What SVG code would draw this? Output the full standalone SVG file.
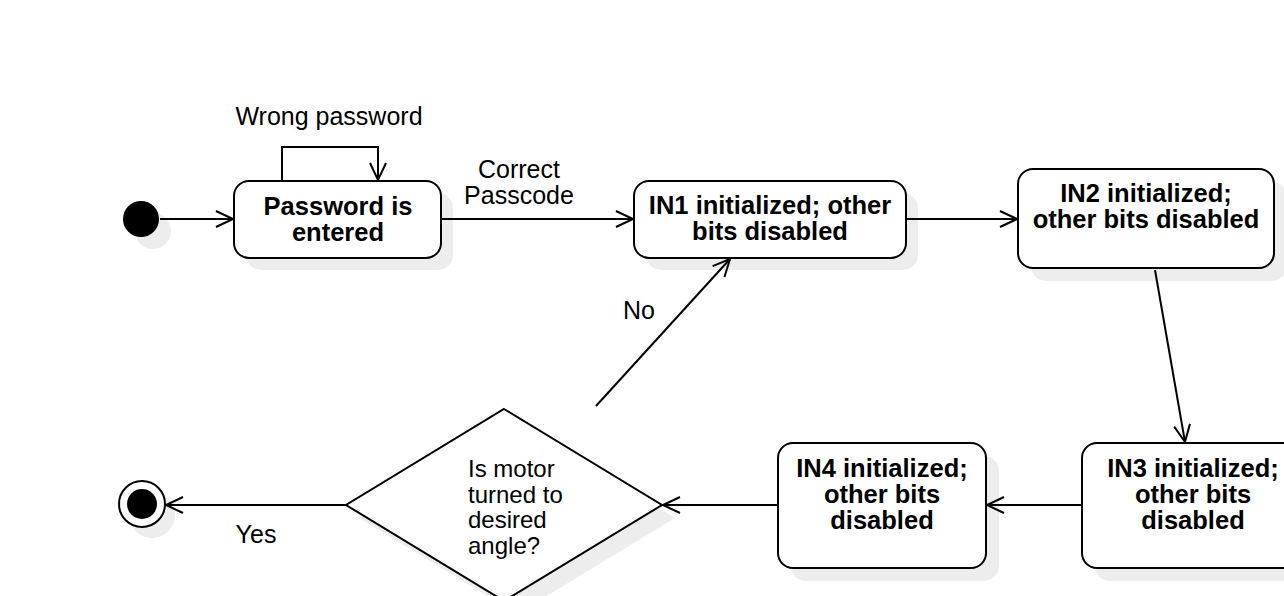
<svg xmlns="http://www.w3.org/2000/svg" width="1284" height="596" viewBox="0 0 1284 596">
<defs>
<marker id="arr" markerUnits="userSpaceOnUse" markerWidth="24" markerHeight="24" refX="18" refY="9" orient="auto" overflow="visible">
<path d="M1,1 L18,9 L1,17" fill="none" stroke="#000" stroke-width="2"/>
</marker>
</defs>
<style>
.box{fill:#fff;stroke:#000;stroke-width:2}
.sh{fill:#ededed;stroke:none}
.line{fill:none;stroke:#000;stroke-width:2;marker-end:url(#arr)}
.bt{font-family:"Liberation Sans",Arial,sans-serif;font-weight:bold;font-size:25.5px;text-anchor:middle;fill:#000}
.nt{font-family:"Liberation Sans",Arial,sans-serif;font-size:25px;fill:#000}
.dt{font-family:"Liberation Sans",Arial,sans-serif;font-size:24px;fill:#000}
.c{text-anchor:middle}
</style>
<rect width="1284" height="596" fill="#fff"/>
<g id="start">
<circle class="sh" cx="153" cy="231" r="18"/>
<circle cx="141" cy="219" r="18" fill="#000"/>
</g>
<g id="password">
<rect class="sh" x="246" y="193" width="207" height="77" rx="15"/>
<rect class="box" x="234" y="181" width="207" height="77" rx="15"/>
<text class="bt" x="338" y="215">Password is</text>
<text class="bt" x="338" y="241">entered</text>
</g>
<g id="in1">
<rect class="sh" x="646" y="193" width="272" height="77" rx="15"/>
<rect class="box" x="634" y="181" width="272" height="77" rx="15"/>
<text class="bt" x="770" y="214">IN1 initialized; other</text>
<text class="bt" x="770" y="240">bits disabled</text>
</g>
<g id="in2">
<rect class="sh" x="1031" y="182" width="256" height="99" rx="15"/>
<rect class="box" x="1018" y="169" width="256" height="99" rx="15"/>
<text class="bt" x="1146" y="202">IN2 initialized;</text>
<text class="bt" x="1146" y="228">other bits disabled</text>
</g>
<g id="in3">
<rect class="sh" x="1095" y="456" width="222" height="125" rx="15"/>
<rect class="box" x="1082" y="443" width="222" height="125" rx="15"/>
<text class="bt" x="1193" y="477">IN3 initialized;</text>
<text class="bt" x="1193" y="503">other bits</text>
<text class="bt" x="1193" y="529">disabled</text>
</g>
<g id="in4">
<rect class="sh" x="791" y="456" width="208" height="125" rx="15"/>
<rect class="box" x="778" y="443" width="208" height="125" rx="15"/>
<text class="bt" x="882" y="477">IN4 initialized;</text>
<text class="bt" x="882" y="503">other bits</text>
<text class="bt" x="882" y="529">disabled</text>
</g>
<g id="decision">
<polygon class="sh" points="517,422 675,518 517,614 359,518"/>
<polygon class="box" points="504,409 662,505 504,601 346,505"/>
<text class="dt" x="468" y="477">Is motor</text>
<text class="dt" x="468" y="503">turned to</text>
<text class="dt" x="468" y="528">desired</text>
<text class="dt" x="468" y="554">angle?</text>
</g>
<g id="end">
<circle class="sh" cx="152" cy="515" r="23"/>
<circle cx="142" cy="504" r="23" fill="#fff" stroke="#000" stroke-width="2"/>
<circle cx="142" cy="504" r="15" fill="#000"/>
</g>
<g id="connectors">
<line class="line" x1="160" y1="219" x2="233" y2="219"/>
<polyline class="line" points="282,181 282,147 378,147 378,180"/>
<line class="line" x1="441" y1="219" x2="633" y2="219"/>
<line class="line" x1="906" y1="219" x2="1017" y2="219"/>
<line class="line" x1="1155" y1="270" x2="1185" y2="442"/>
<line class="line" x1="1082" y1="505" x2="987" y2="505"/>
<line class="line" x1="778" y1="505" x2="663" y2="505"/>
<line class="line" x1="596" y1="406" x2="730" y2="259"/>
<line class="line" x1="346" y1="505" x2="166" y2="505"/>
</g>
<g id="labels">
<text class="nt c" x="329" y="125">Wrong password</text>
<text class="nt c" x="519" y="178">Correct</text>
<text class="nt c" x="519" y="204">Passcode</text>
<text class="nt c" x="639" y="319">No</text>
<text class="nt c" x="256" y="543">Yes</text>
</g>
</svg>
